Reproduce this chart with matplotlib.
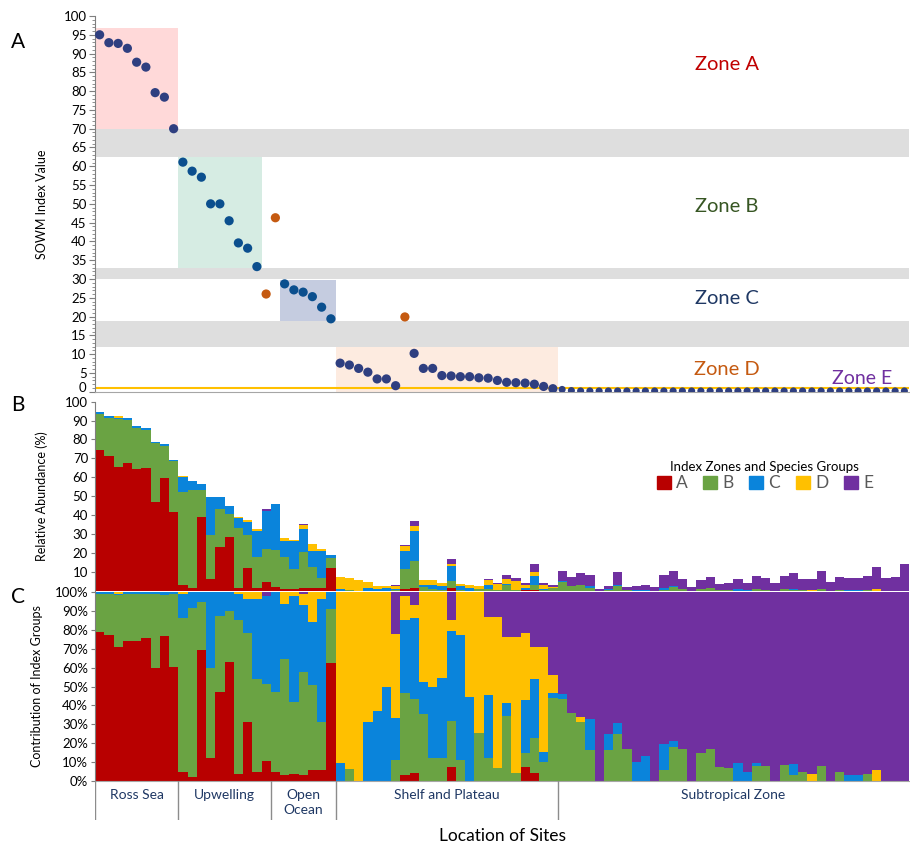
import matplotlib.pyplot as plt
import matplotlib.patches as mpatches
import matplotlib.transforms as mtransforms
import numpy as np

plt.rcParams['font.family'] = ['Lato', 'DejaVu Sans']

# ---- data (88 sites, left to right) ----
sowm = [95.0, 92.9, 92.7, 91.4, 87.7, 86.4, 79.6, 78.4, 70.0,
        61.1, 58.7, 57.1, 50.0, 50.0, 45.5, 39.6, 38.2, 33.3, 26.0,
        46.3, 28.7, 27.1, 26.5, 25.3, 22.5, 19.4,
        7.6, 7.1, 6.2, 5.2, 3.4, 3.4, 1.6, 19.9, 10.2, 6.2, 6.2, 4.3, 4.2, 4.0,
        4.0, 3.7, 3.6, 3.0, 2.5, 2.4, 2.3, 2.0, 1.4, 0.8,
        0.6, 0.3, 0.2, 0.2, 0.2, 0.2, 0.2, 0.2, 0.2, 0.2,
        0.2, 0.2, 0.2, 0.2, 0.2, 0.2, 0.2, 0.2, 0.2, 0.2,
        0.2, 0.2, 0.2, 0.2, 0.2, 0.2, 0.2, 0.2, 0.2, 0.2,
        0.2, 0.2, 0.2, 0.2, 0.2, 0.2, 0.2, 0.2]
outliers = [18, 19, 33]          # sites drawn in orange
zone_bc_sites = list(range(9, 18)) + list(range(20, 26))

# total relative abundance of the index species (panel B bar height)
total = [94.4, 92.2, 92.2, 91.2, 86.9, 85.9, 78.8, 77.7, 69.3, 60.6,
         58.2, 56.6, 49.4, 49.4, 44.8, 38.8, 37.6, 32.6, 43.2, 45.6,
         27.8, 26.6, 35.1, 24.8, 21.8, 18.8, 7.0, 6.5, 5.6, 4.4,
         2.6, 2.6, 3.0, 24.3, 36.7, 5.6, 5.6, 4.2, 16.6, 3.3,
         3.0, 2.4, 6.3, 3.8, 8.1, 6.7, 3.8, 14.1, 4.2, 3.0,
         10.5, 7.2, 9.1, 8.1, 0.9, 2.6, 10.0, 1.9, 2.3, 3.1,
         1.9, 8.1, 10.4, 6.0, 1.9, 5.4, 7.2, 3.3, 4.2, 6.3,
         4.2, 7.7, 6.5, 3.8, 7.7, 9.5, 6.1, 6.1, 10.4, 4.7,
         7.4, 6.5, 6.8, 7.7, 12.5, 6.8, 7.2, 13.9]

# contribution (%) of each index group per site (panel C)
pct_a = [78.8, 77.4, 70.9, 74.3, 74.3, 75.8, 59.6, 76.9, 60.1,
         4.6, 2.3, 69.3, 12.3, 46.9, 62.8, 3.7, 31.4, 4.6, 10.6,
         4.6, 3.2, 3.7, 3.2, 5.8, 5.8, 62.3,
         0, 0, 0, 0, 0, 0, 0, 3.2, 4.0, 0, 0, 0, 7.6, 0,
         0, 0, 0, 0, 0, 0, 7.6, 4.0, 0, 0,
         0, 0, 0, 0, 0, 0, 0, 0, 0, 0,
         0, 0, 0, 0, 0, 0, 0, 0, 0, 0,
         0, 0, 0, 0, 0, 0, 0, 0, 0, 0,
         0, 0, 0, 0, 0, 0, 0, 0]
pct_b = [20.2, 21.6, 27.6, 24.7, 24.7, 23.2, 39.4, 21.6, 39.0,
         81.5, 89.1, 25.2, 47.7, 40.6, 27.3, 81.5, 46.7, 49.4, 40.5,
         42.3, 61.4, 38.3, 54.3, 45.0, 25.6, 28.5,
         0, 6.2, 0, 0, 0, 0, 11.1, 43.5, 39.2, 35.3, 12.3, 12.3, 24.1, 11.1,
         0, 25.2, 12.3, 7.1, 34.4, 4.0, 7.0, 18.6, 10.2, 44.1,
         43.2, 35.8, 31.0, 16.4, 0, 16.4, 24.9, 16.8, 0, 0,
         0, 5.8, 18.2, 16.8, 0, 15.0, 16.8, 7.6, 6.7, 0,
         0, 7.9, 7.9, 0, 8.3, 3.2, 4.8, 0, 7.9, 0,
         4.9, 0, 0, 3.5, 0, 0, 0, 0]
pct_c = [1.0, 1.0, 0.5, 1.0, 1.0, 1.0, 1.0, 1.5, 0.9,
         12.9, 8.6, 5.5, 40.0, 12.5, 9.9, 13.8, 18.1, 42.5, 46.9,
         53.1, 29.2, 56.0, 35.5, 33.5, 64.9, 9.2,
         9.3, 0, 0, 31.0, 37.0, 49.7, 22.1, 38.5, 42.9, 17.3, 37.6, 42.0, 47.7, 66.1,
         44.6, 0, 33.2, 0, 6.7, 0, 28.3, 31.2, 5.3, 2.3,
         2.7, 0, 0, 16.4, 0, 8.5, 5.6, 0, 9.9, 13.2,
         0, 13.8, 3.0, 0, 0, 0, 0, 0, 0, 9.7,
         4.9, 1.8, 0, 0, 0, 5.6, 0, 0, 0, 0,
         0, 3.2, 3.2, 0, 0, 0, 0, 0]
pct_d = [0, 0, 1.0, 0, 0, 0, 0, 0, 0,
         1.0, 0, 0, 0, 0, 0, 1.0, 3.8, 3.5, 0,
         0, 6.2, 2.0, 5.7, 15.7, 3.7, 0,
         90.7, 93.8, 100, 69.0, 63.0, 50.3, 44.4, 12.8, 7.0, 47.4, 50.1, 45.7, 5.8, 22.8,
         55.4, 74.8, 41.4, 79.8, 35.3, 72.4, 35.2, 17.3, 55.6, 9.7,
         0, 0, 3.0, 0, 0, 0, 0, 0, 0, 0,
         0, 0, 0, 0, 0, 0, 0, 0, 0, 0,
         0, 0, 0, 0, 0, 0, 0, 3.9, 0, 0,
         0, 0, 0, 0, 5.8, 0, 0, 0]
pct_e = [0, 0, 0, 0, 0, 0, 0, 0, 0,
         0, 0, 0, 0, 0, 0, 0, 0, 0, 2.0,
         0, 0, 0, 1.3, 0, 0, 0,
         0, 0, 0, 0, 0, 0, 22.4, 2.0, 6.9, 0, 0, 0, 14.8, 0,
         0, 0, 13.1, 13.1, 23.6, 23.6, 21.9, 28.9, 28.9, 43.9,
         54.1, 64.2, 66.0, 67.2, 100, 75.1, 69.5, 83.2, 90.1, 86.8,
         100, 80.4, 78.8, 83.2, 100, 85.0, 83.2, 92.4, 93.3, 90.3,
         95.1, 90.3, 92.1, 100, 91.7, 91.2, 95.2, 96.1, 92.1, 100,
         95.1, 96.8, 96.8, 96.5, 94.2, 100, 100, 100]

groups = ['A', 'B', 'C', 'D', 'E']
group_colors = ['#b80000', '#6aa343', '#0a84db', '#ffc000', '#7030a0']

regions = ['Ross Sea', 'Upwelling', 'Open\nOcean', 'Shelf and Plateau', 'Subtropical Zone']
region_edges = [0, 9, 19, 26, 50, 88]

# ---- figure ----
W, H = 910, 847
fig = plt.figure(figsize=(W / 100, H / 100), dpi=100)
n = len(sowm)
x = np.arange(n) + 0.5
left = 95 / W
width = 814 / W

def fy(py):
    return 1 - py / H

# panel A
ax_a = fig.add_axes([left, fy(391.7), width, 375.7 / H])
ax_a.set_xlim(0, n)
ax_a.set_ylim(0, 100)

# zone boxes and gaps
ax_a.add_patch(mpatches.Rectangle((0, 70), 9, 26.9, color='#ffd9d9', lw=0, zorder=0))
ax_a.add_patch(mpatches.Rectangle((9, 33.0), 9, 29.5, color='#d6ece3', lw=0, zorder=0))
ax_a.add_patch(mpatches.Rectangle((20, 18.7), 6, 11.0, color='#c5cce0', lw=0, zorder=0))
ax_a.add_patch(mpatches.Rectangle((26, 0), 24, 12.0, color='#fdebe0', lw=0, zorder=0))
for lo, hi in [(62.5, 69.9), (30.0, 32.8), (11.8, 18.9)]:
    ax_a.axhspan(lo, hi, color='#dedede', lw=0, zorder=0)
ax_a.axhline(1.0, color='#ffc000', lw=1.5, zorder=1)

cols = []
for i in range(n):
    if i in outliers:
        cols.append('#c55a11')
    elif i in zone_bc_sites:
        cols.append('#0b4f8e')
    else:
        cols.append('#2f3f80')
sizes = [44 if i < 50 else 26 for i in range(n)]
ax_a.scatter(x, sowm, c=cols, s=sizes, zorder=3, linewidths=0)

ax_a.text(68.3, 87, 'Zone A', color='#c00000', fontsize=14.5, ha='center', va='center')
ax_a.text(68.3, 49.2, 'Zone B', color='#375623', fontsize=14.5, ha='center', va='center')
ax_a.text(68.3, 24.9, 'Zone C', color='#1f3864', fontsize=14.5, ha='center', va='center')
ax_a.text(68.3, 5.8, 'Zone D', color='#c55a11', fontsize=14.5, ha='center', va='center')
ax_a.text(82.9, 3.4, 'Zone E', color='#7030a0', fontsize=14, ha='center', va='center')

yt = np.arange(0, 101, 5)
ax_a.set_yticks(yt)
ax_a.set_yticklabels([''] + [str(v) for v in yt[1:]])
ax_a.set_yticks(np.arange(0, 101, 1), minor=True)
ax_a.set_xticks([])
ax_a.tick_params(axis='y', labelsize=9.5, length=4, color='#7f7f7f', pad=2)
ax_a.tick_params(axis='y', which='minor', length=2, color='#7f7f7f')
# "0" label nudged up a little so it does not collide with panel B's "100"
trans0 = mtransforms.offset_copy(ax_a.get_yaxis_transform(), fig=fig, x=-6, y=3, units='points')
ax_a.text(0, 0, '0', transform=trans0, ha='right', va='center', fontsize=9.5)
for s in ['top', 'right']:
    ax_a.spines[s].set_visible(False)
ax_a.spines['left'].set_color('#7f7f7f')
ax_a.spines['bottom'].set_color('#a6a6a6')
ax_a.set_ylabel('SOWM Index Value', fontsize=9)
ax_a.yaxis.set_label_coords(-0.058, 0.5)

# stacked data
pcts = [np.array(p) for p in [pct_a, pct_b, pct_c, pct_d, pct_e]]
tot = np.array(total)

# panel B
ax_b = fig.add_axes([left, fy(590.6), width, 188.9 / H])
bottom = np.zeros(n)
for p, c in zip(pcts, group_colors):
    v = p * tot / 100
    ax_b.bar(x, v, width=1.0, bottom=bottom, color=c, lw=0)
    bottom += v
ax_b.set_xlim(0, n)
ax_b.set_ylim(0, 100)
ax_b.set_yticks(np.arange(10, 101, 10))
ax_b.set_xticks([])
ax_b.tick_params(axis='y', labelsize=9.5, length=3, color='#7f7f7f', pad=2)
for s in ['top', 'right', 'bottom']:
    ax_b.spines[s].set_visible(False)
ax_b.spines['left'].set_color('#7f7f7f')
ax_b.set_ylabel('Relative Abundance (%)', fontsize=9)
ax_b.yaxis.set_label_coords(-0.058, 0.5)
handles = [mpatches.Patch(color=c, label=g) for g, c in zip(groups, group_colors)]
leg = ax_b.legend(handles=handles, ncol=5, loc='center', bbox_to_anchor=(0.823, 0.605),
                  frameon=False, title='Index Zones and Species Groups', title_fontsize=9.5,
                  fontsize=12.5, handlelength=0.8, handleheight=0.8, handletextpad=0.3,
                  columnspacing=0.9, labelspacing=0.1, borderpad=0)
for t in leg.get_texts():
    t.set_color('#595959')

# panel C
ax_c = fig.add_axes([left, fy(781), width, 189 / H])
bottom = np.zeros(n)
for p, c in zip(pcts, group_colors):
    ax_c.bar(x, p, width=1.0, bottom=bottom, color=c, lw=0)
    bottom += p
ax_c.set_xlim(0, n)
ax_c.set_ylim(0, 100)
ax_c.set_yticks(np.arange(0, 101, 10))
ax_c.set_yticklabels([f'{v}%' for v in range(0, 101, 10)])
ax_c.set_xticks([])
ax_c.tick_params(axis='y', labelsize=9.5, length=3, color='#7f7f7f', pad=2)
for s in ['top', 'right']:
    ax_c.spines[s].set_visible(False)
ax_c.spines['left'].set_color('#7f7f7f')
ax_c.spines['bottom'].set_color('#a6a6a6')
ax_c.set_ylabel('Contribution of Index Groups', fontsize=9)
ax_c.yaxis.set_label_coords(-0.064, 0.5)

# region strip
ax_r = fig.add_axes([left, fy(820), width, 39 / H])
ax_r.set_xlim(0, n)
ax_r.set_ylim(0, 1)
ax_r.axis('off')
for e in region_edges[:-1]:
    ax_r.plot([e, e], [0, 1], color='#8c8c8c', lw=1)
for name, a, b in zip(regions, region_edges[:-1], region_edges[1:]):
    ax_r.text((a + b) / 2, 0.8, name, ha='center', va='top', fontsize=10,
              color='#1f3864', linespacing=1.35)

fig.text((95 + 814 / 2) / W, fy(836), 'Location of Sites', ha='center', va='center', fontsize=12.5)

fig.text(18 / W, fy(42), 'A', fontsize=15, ha='center', va='center')
fig.text(18 / W, fy(405), 'B', fontsize=15, ha='center', va='center')
fig.text(18 / W, fy(597), 'C', fontsize=15, ha='center', va='center')

fig.savefig('out.png', dpi=100)
